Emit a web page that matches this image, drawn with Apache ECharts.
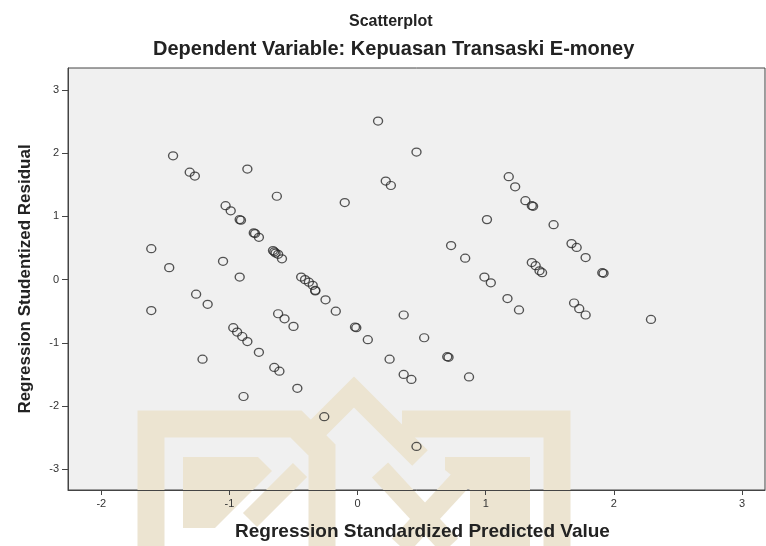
<!DOCTYPE html>
<html>
<head>
<meta charset="utf-8">
<script src="https://cdn.jsdelivr.net/npm/echarts@6/dist/echarts.min.js"></script>
<style>
  html, body { margin: 0; padding: 0; background: #fff; }
  #chart { width: 766px; height: 546px; }
</style>
</head>
<body>
<div id="chart"></div>
<script>
// standardized predicted value (x) and studentized residual (y)
var predicted = [
  -1.44, -1.31, -1.27, -0.86, -0.63, -0.10, -1.03, -0.99, -0.92, -0.91,
  -0.81, -0.80, -0.77, -0.66, -0.65, -0.64, -0.62, -0.59, -1.61, -1.47,
  -1.05, -0.92, -0.44, -0.41, -0.38, -0.35, -0.33, -0.33, -0.25, -0.17,
  -1.26, -1.17, -1.61, -0.62, -0.57, -0.50, -0.02, -0.01, 0.08, -0.97,
  -0.94, -0.90, -0.86, -0.77, -1.21, -0.65, -0.61, -0.47, -0.89, -0.26,
  0.16, 0.46, 0.22, 0.26, 0.73, 0.84, 0.36, 0.52, 0.25, 0.70,
  0.71, 0.36, 0.42, 0.87, 0.46,
  1.18, 1.23, 1.31, 1.36, 1.37, 1.01, 1.53, 1.67, 1.71, 1.78,
  1.36, 1.39, 1.42, 1.44, 1.91, 1.92, 0.99, 1.04, 1.17, 1.26,
  1.69, 1.73, 1.78, 2.29
];
var residuals = [
  1.96, 1.70, 1.64, 1.75, 1.32, 1.22, 1.17, 1.09, 0.95, 0.94,
  0.74, 0.73, 0.67, 0.46, 0.44, 0.42, 0.40, 0.33, 0.49, 0.19,
  0.29, 0.04, 0.04, 0.00, -0.04, -0.09, -0.17, -0.18, -0.32, -0.50,
  -0.23, -0.39, -0.49, -0.54, -0.62, -0.74, -0.75, -0.76, -0.95, -0.76,
  -0.83, -0.90, -0.98, -1.15, -1.26, -1.39, -1.45, -1.72, -1.85, -2.17,
  2.51, 2.02, 1.56, 1.49, 0.54, 0.34, -0.56, -0.92, -1.26, -1.22,
  -1.23, -1.50, -1.58, -1.54, -2.64,
  1.63, 1.47, 1.25, 1.17, 1.16, 0.95, 0.87, 0.57, 0.51, 0.35,
  0.27, 0.22, 0.14, 0.11, 0.11, 0.10, 0.04, -0.05, -0.30, -0.48,
  -0.37, -0.46, -0.56, -0.63
];
var xTicks = [-2, -1, 0, 1, 2, 3];
var yTicks = [-3, -2, -1, 0, 1, 2, 3];

var points = predicted.map(function (x, i) { return [x, residuals[i]]; });

var chart = echarts.init(document.getElementById('chart'));
var font = 'Liberation Sans, Arial, sans-serif';
var beige = '#ece4d1';

var option = {
  backgroundColor: '#ffffff',
  animation: false,
  title: [
    {
      text: 'Scatterplot',
      left: 344,
      top: 9,
      textStyle: { fontFamily: font, fontSize: 16, fontWeight: 'bold', color: '#222' }
    },
    {
      text: 'Dependent Variable: Kepuasan Transaski E-money',
      left: 148,
      top: 34,
      textStyle: { fontFamily: font, fontSize: 20, fontWeight: 'bold', color: '#222' }
    }
  ],
  grid: {
    left: 68, top: 68, right: 1, bottom: 56,
    show: true,
    backgroundColor: '#f0f0f0',
    borderColor: '#444',
    borderWidth: 1
  },
  // watermark logo, rough shapes behind the plot
  graphic: [
    { type: 'polyline', z: 0, shape: { points: [[151, 546], [151, 424], [296, 424], [322, 450], [322, 546]] },
      style: { stroke: beige, lineWidth: 27, fill: null } },
    { type: 'polyline', z: 0, shape: { points: [[300, 446], [354, 392], [420, 458]] },
      style: { stroke: beige, lineWidth: 22, fill: null } },
    { type: 'polyline', z: 0, shape: { points: [[402, 424], [557, 424], [557, 546]] },
      style: { stroke: beige, lineWidth: 27, fill: null } },
    { type: 'polygon', z: 0, shape: { points: [[183, 457], [258, 457], [272, 471], [215, 528], [183, 528]] },
      style: { fill: beige } },
    { type: 'polyline', z: 0, shape: { points: [[250, 520], [300, 470]] },
      style: { stroke: beige, lineWidth: 20, fill: null } },
    { type: 'polyline', z: 0, shape: { points: [[380, 470], [450, 546]] },
      style: { stroke: beige, lineWidth: 22, fill: null } },
    { type: 'polyline', z: 0, shape: { points: [[470, 470], [400, 546]] },
      style: { stroke: beige, lineWidth: 22, fill: null } },
    { type: 'polygon', z: 0, shape: { points: [[445, 457], [530, 457], [530, 546], [470, 546], [470, 490], [445, 470]] },
      style: { fill: beige } }
  ],
  xAxis: {
    type: 'value',
    min: -2.26,
    max: 3.18,
    name: 'Regression Standardized Predicted Value',
    nameLocation: 'middle',
    nameGap: 32,
    nameTextStyle: { fontFamily: font, fontSize: 19, fontWeight: 'bold', color: '#222', padding: [0, 0, 0, 12] },
    axisLine: { show: true, onZero: false, lineStyle: { color: '#444', width: 1 } },
    axisTick: { show: true, length: 5, customValues: xTicks, lineStyle: { color: '#444' } },
    axisLabel: { customValues: xTicks, margin: 8, fontFamily: font, fontSize: 11, color: '#333' },
    splitLine: { show: false }
  },
  yAxis: {
    type: 'value',
    min: -3.33,
    max: 3.35,
    name: 'Regression Studentized Residual',
    nameLocation: 'middle',
    nameGap: 34,
    nameTextStyle: { fontFamily: font, fontSize: 17, fontWeight: 'bold', color: '#222' },
    axisLine: { show: true, onZero: false, lineStyle: { color: '#444', width: 1 } },
    axisTick: { show: true, length: 6, customValues: yTicks, lineStyle: { color: '#444' } },
    axisLabel: { customValues: yTicks, margin: 9, fontFamily: font, fontSize: 11, color: '#333' },
    splitLine: { show: false }
  },
  series: [
    {
      type: 'scatter',
      data: points,
      symbol: 'circle',
      symbolSize: [9, 8],
      z: 5,
      itemStyle: { color: 'rgba(0,0,0,0)', borderColor: '#2a2a2a', borderWidth: 1.3 }
    }
  ]
};

chart.setOption(option);
</script>
</body>
</html>
